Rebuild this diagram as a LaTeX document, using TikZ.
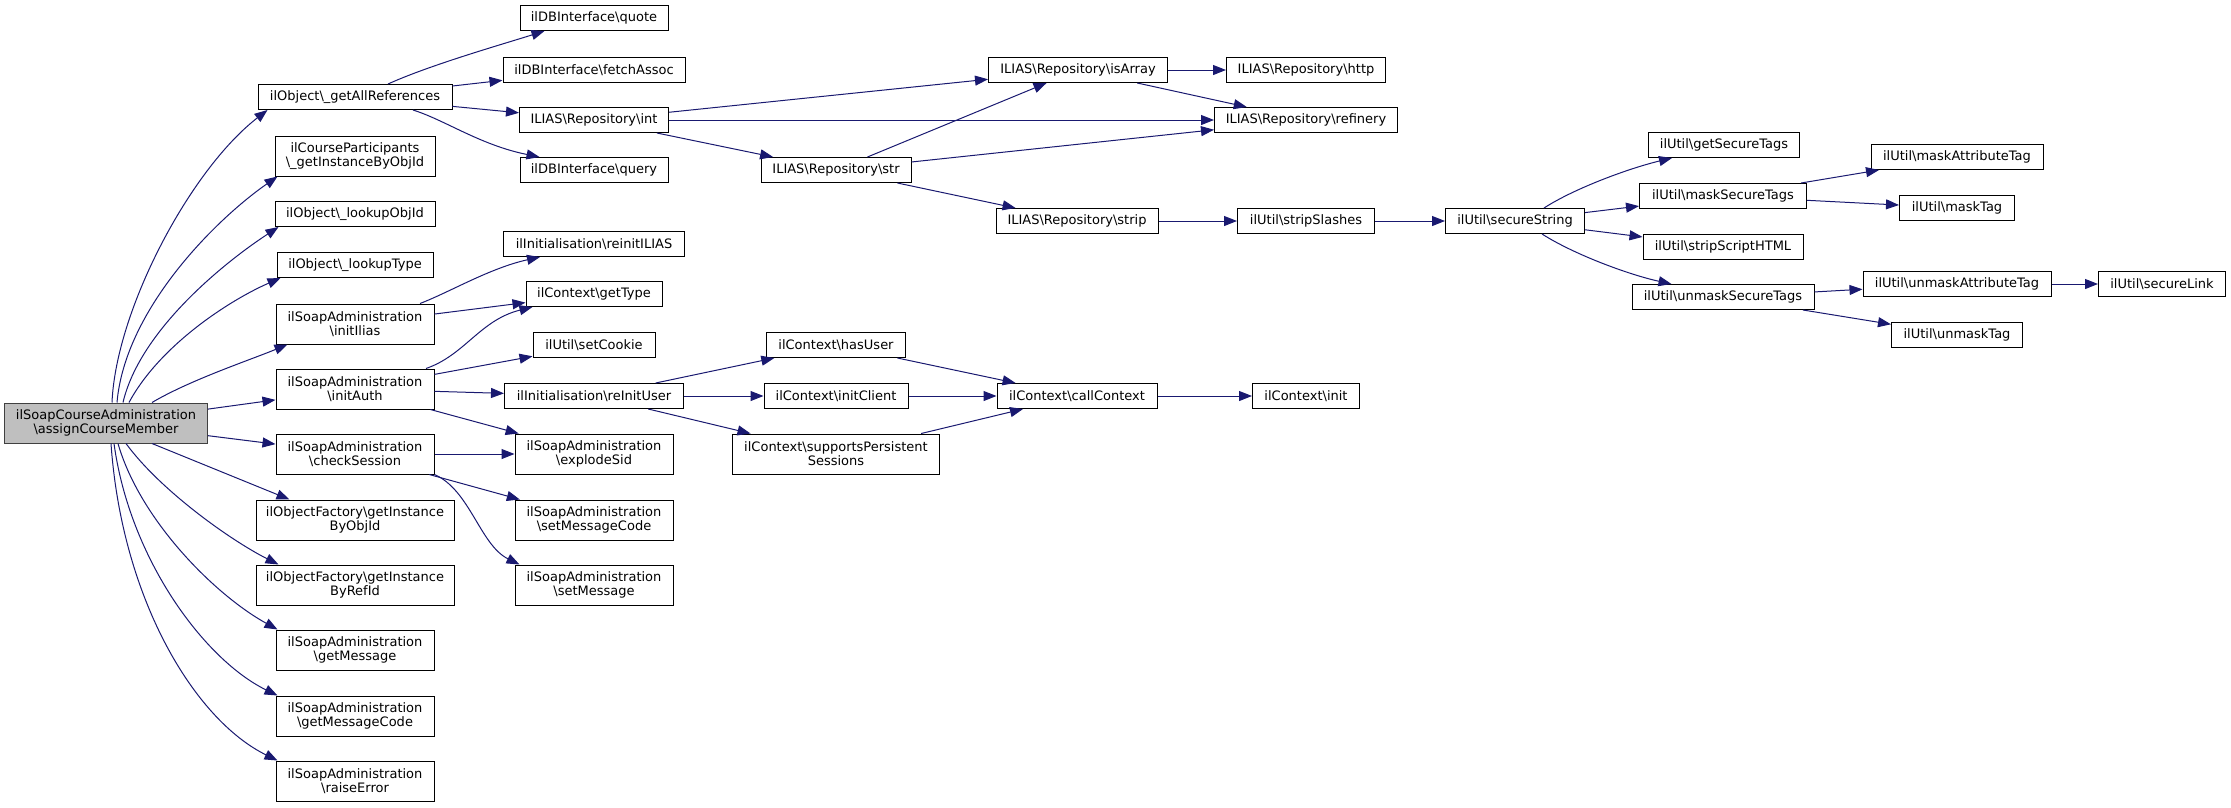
\documentclass[tikz,border=0pt]{standalone}
\usepackage{fontspec}
\setmainfont{DejaVu Sans}
\usetikzlibrary{arrows.meta}
\definecolor{mblue}{HTML}{191970}
\definecolor{rootfill}{HTML}{BFBFBF}
\begin{document}
\begin{tikzpicture}[x=1pt,y=-1pt,
  nd/.style={draw=black, line width=1pt, fill=white, inner sep=0pt, minimum height=25pt,
             align=center, font=\fontsize{13}{14}\selectfont},
  two/.style={minimum height=40pt},
  wd/.style={minimum width=#1pt},
  root/.style={fill=rootfill, draw=black!75},
  cedge/.style={draw=mblue, line width=1pt, -{Triangle[length=13pt,width=10pt]}}]
\useasboundingbox (0,0) rectangle (2231,807);
% column 0
\node[nd,two,root,wd=203] (main) at (106,423) {ilSoapCourseAdministration\\\textbackslash assignCourseMember};
% column 1
\node[nd,wd=194] (gar) at (355,97) {ilObject\textbackslash\_getAllReferences};
\node[nd,two,wd=160] (cp) at (355,156) {ilCourseParticipants\\\textbackslash\_getInstanceByObjId};
\node[nd,wd=160] (loi) at (355,214) {ilObject\textbackslash\_lookupObjId};
\node[nd,wd=156] (lot) at (355,265) {ilObject\textbackslash\_lookupType};
\node[nd,two,wd=158] (ii) at (355,324) {ilSoapAdministration\\\textbackslash initIlias};
\node[nd,two,wd=158] (ia) at (355,389) {ilSoapAdministration\\\textbackslash initAuth};
\node[nd,two,wd=158] (cs) at (355,454) {ilSoapAdministration\\\textbackslash checkSession};
\node[nd,two,wd=198] (gio) at (355,520) {ilObjectFactory\textbackslash getInstance\\ByObjId};
\node[nd,two,wd=198] (gir) at (355,585) {ilObjectFactory\textbackslash getInstance\\ByRefId};
\node[nd,two,wd=158] (gm) at (355,650) {ilSoapAdministration\\\textbackslash getMessage};
\node[nd,two,wd=158] (gmc) at (355,716) {ilSoapAdministration\\\textbackslash getMessageCode};
\node[nd,two,wd=158] (re) at (355,781) {ilSoapAdministration\\\textbackslash raiseError};
% column 2
\node[nd,wd=148] (quote) at (594,18) {ilDBInterface\textbackslash quote};
\node[nd,wd=182] (fa) at (594,70) {ilDBInterface\textbackslash fetchAssoc};
\node[nd,wd=149] (int) at (594,120) {ILIAS\textbackslash Repository\textbackslash int};
\node[nd,wd=148] (query) at (594,170) {ilDBInterface\textbackslash query};
\node[nd,wd=181] (rii) at (594,244) {ilInitialisation\textbackslash reinitILIAS};
\node[nd,wd=136] (gt) at (594,294) {ilContext\textbackslash getType};
\node[nd,wd=122] (sc) at (594,345) {ilUtil\textbackslash setCookie};
\node[nd,wd=179] (riu) at (594,396) {ilInitialisation\textbackslash reInitUser};
\node[nd,two,wd=158] (es) at (594,454) {ilSoapAdministration\\\textbackslash explodeSid};
\node[nd,two,wd=158] (smc) at (594,520) {ilSoapAdministration\\\textbackslash setMessageCode};
\node[nd,two,wd=158] (sm) at (594,585) {ilSoapAdministration\\\textbackslash setMessage};
% column 3
\node[nd,wd=150] (str) at (836,170) {ILIAS\textbackslash Repository\textbackslash str};
\node[nd,wd=139] (hu) at (836,345) {ilContext\textbackslash hasUser};
\node[nd,wd=144] (ic) at (836,396) {ilContext\textbackslash initClient};
\node[nd,two,wd=207] (sps) at (836,454) {ilContext\textbackslash supportsPersistent\\Sessions};
% column 4
\node[nd,wd=179] (isa) at (1078,70) {ILIAS\textbackslash Repository\textbackslash isArray};
\node[nd,wd=162] (strip) at (1077,221) {ILIAS\textbackslash Repository\textbackslash strip};
\node[nd,wd=160] (cc) at (1077,396) {ilContext\textbackslash callContext};
% column 5
\node[nd,wd=159] (http) at (1306,70) {ILIAS\textbackslash Repository\textbackslash http};
\node[nd,wd=183] (ref) at (1306,120) {ILIAS\textbackslash Repository\textbackslash refinery};
\node[nd,wd=137] (ss) at (1306,221) {ilUtil\textbackslash stripSlashes};
\node[nd,wd=107] (init) at (1306,396) {ilContext\textbackslash init};
% column 6
\node[nd,wd=139] (sst) at (1515,221) {ilUtil\textbackslash secureString};
% column 7
\node[nd,wd=151] (gst) at (1724,145) {ilUtil\textbackslash getSecureTags};
\node[nd,wd=167] (mst) at (1723,196) {ilUtil\textbackslash maskSecureTags};
\node[nd,wd=160] (ssh) at (1723,247) {ilUtil\textbackslash stripScriptHTML};
\node[nd,wd=182] (ust) at (1723,297) {ilUtil\textbackslash unmaskSecureTags};
% column 8
\node[nd,wd=172] (mat) at (1957,157) {ilUtil\textbackslash maskAttributeTag};
\node[nd,wd=115] (mt) at (1957,208) {ilUtil\textbackslash maskTag};
\node[nd,wd=188] (uat) at (1957,284) {ilUtil\textbackslash unmaskAttributeTag};
\node[nd,wd=131] (ut) at (1957,335) {ilUtil\textbackslash unmaskTag};
% column 9
\node[nd,wd=127] (sl) at (2162,284) {ilUtil\textbackslash secureLink};

% edges from main
\draw[cedge] ([xshift=6pt]main.north) .. controls (116,310) and (190,170) .. ([xshift=10pt]gar.south west);
\draw[cedge] ([xshift=11pt]main.north) .. controls (125,310) and (215,220) .. ([xshift=3pt]cp.south west);
\draw[cedge] ([xshift=17pt]main.north) .. controls (140,330) and (225,262) .. ([xshift=4pt]loi.south west);
\draw[cedge] ([xshift=23pt]main.north) .. controls (160,345) and (230,300) .. ([xshift=4pt]lot.south west);
\draw[cedge] ([xshift=46pt]main.north) .. controls (190,380) and (250,360) .. ([xshift=12pt]ii.south west);
\draw[cedge] (main) -- (ia);
\draw[cedge] (main) -- (cs);
\draw[cedge] ([xshift=46pt]main.south) -- ([xshift=34pt]gio.north west);
\draw[cedge] ([xshift=20pt]main.south) .. controls (160,490) and (230,540) .. ([xshift=23pt]gir.north west);
\draw[cedge] ([xshift=12pt]main.south) .. controls (140,520) and (215,595) .. ([xshift=2pt]gm.north west);
\draw[cedge] ([xshift=8pt]main.south) .. controls (130,560) and (205,660) .. ([xshift=2pt]gmc.north west);
\draw[cedge] ([xshift=5pt]main.south) .. controls (122,600) and (195,720) .. ([xshift=2pt]re.north west);
% getAllReferences
\draw[cedge] ([xshift=33pt]gar.north) .. controls (430,65) and (500,45) .. ([xshift=25pt]quote.south west);
\draw[cedge] (gar) -- (fa);
\draw[cedge] (gar) -- (int);
\draw[cedge] ([xshift=58pt]gar.south) .. controls (445,120) and (480,145) .. ([xshift=20pt]query.north west);
% int
\draw[cedge] (int) -- (isa);
\draw[cedge] (int) -- (ref);
\draw[cedge] (int) -- (str);
\draw[cedge] (isa) -- (http);
\draw[cedge] (isa) -- (ref);
\draw[cedge] (str) -- (isa);
\draw[cedge] (str) -- (ref);
\draw[cedge] (str) -- (strip);
\draw[cedge] (strip) -- (ss);
\draw[cedge] (ss) -- (sst);
% secureString
\draw[cedge] ([xshift=29pt]sst.north) .. controls (1575,188) and (1630,168) .. ([xshift=24pt]gst.south west);
\draw[cedge] (sst) -- (mst);
\draw[cedge] (sst) -- (ssh);
\draw[cedge] ([xshift=27pt]sst.south) .. controls (1575,255) and (1630,275) .. ([xshift=40pt]ust.north west);
\draw[cedge] (mst) -- (mat);
\draw[cedge] (mst) -- (mt);
\draw[cedge] (ust) -- (uat);
\draw[cedge] (ust) -- (ut);
\draw[cedge] (uat) -- (sl);
% initIlias / initAuth
\draw[cedge] ([xshift=65pt]ii.north) .. controls (450,292) and (490,268) .. ([xshift=37pt]rii.south west);
\draw[cedge] (ii) -- (gt);
\draw[cedge] ([xshift=71pt]ia.north) .. controls (465,355) and (480,320) .. ([xshift=7pt]gt.south west);
\draw[cedge] (ia) -- (sc);
\draw[cedge] (ia) -- (riu);
\draw[cedge] (ia) -- (es);
% reInitUser
\draw[cedge] (riu) -- (hu);
\draw[cedge] (riu) -- (ic);
\draw[cedge] (riu) -- (sps);
\draw[cedge] (hu) -- (cc);
\draw[cedge] (ic) -- (cc);
\draw[cedge] (sps) -- (cc);
\draw[cedge] (cc) -- (init);
% checkSession
\draw[cedge] (cs) -- (es);
\draw[cedge] (cs) -- (smc);
\draw[cedge] (cs.south east) .. controls (470,490) and (480,545) .. ([xshift=5pt]sm.north west);
\end{tikzpicture}
\end{document}
